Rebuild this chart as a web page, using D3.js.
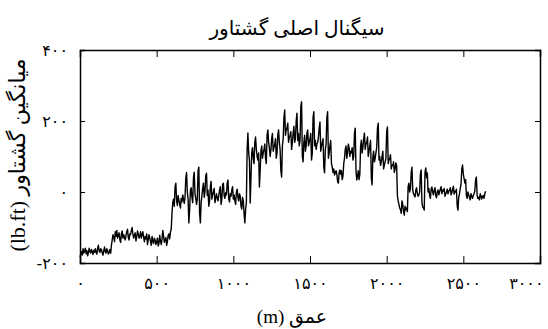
<!DOCTYPE html>
<html>
<head>
<meta charset="utf-8">
<script src="https://cdn.jsdelivr.net/npm/d3@7"></script>
<style>
  html, body { margin: 0; padding: 0; background: #fff; }
  svg { display: block; }
  text { font-family: "Liberation Serif", "DejaVu Sans", serif; fill: #000; }
</style>
</head>
<body>
<svg id="chart" width="548" height="329"></svg>
<script>
// Torque signal sampled every 5 m of depth (lb.ft), one row per 100 m
const depthStep = 5;
const torque = [
  -182,-175,-168,-178,-160,-172,-166,-158,-174,-165,-180,-170,-158,-168,-172,-162,-168,-176,-164,-170,
  -160,-170,-175,-158,-150,-166,-170,-160,-162,-172,-178,-165,-155,-168,-172,-160,-165,-175,-170,-162,
  -172,-150,-135,-120,-128,-140,-112,-125,-108,-130,-122,-115,-135,-142,-118,-110,-130,-120,-128,-135,
  -122,-112,-105,-128,-135,-118,-120,-108,-100,-118,-130,-122,-115,-138,-125,-110,-118,-130,-124,-112,
  -130,-120,-112,-128,-140,-125,-132,-118,-148,-135,-120,-130,-140,-150,-125,-138,-145,-130,-136,-148,
  -140,-130,-152,-145,-122,-138,-148,-132,-108,-125,-142,-135,-128,-150,-140,-122,-118,-132,-112,-105,
  -60,-30,-20,-40,15,25,-25,-38,-10,-22,-35,-45,-18,-28,-8,-20,-32,-15,40,55,
  0,-20,-87,-50,5,12,-15,-30,40,56,-5,-18,-35,-20,60,70,-60,-87,-30,-10,
  10,25,-15,0,45,53,-10,5,-40,-25,15,30,-20,-8,0,10,-30,-20,-5,-15,
  -25,-10,5,15,-35,-20,20,25,-10,-18,-2,-8,25,34,-20,-28,-5,-12,5,15,
  -20,-8,-25,-35,0,8,-15,-25,-5,-12,-40,-48,-15,-25,-60,-87,-50,-30,120,166,
  110,90,-31,40,110,125,95,80,140,155,120,100,90,110,14,60,115,130,95,110,
  120,135,95,80,160,175,140,125,100,118,150,165,115,125,135,150,95,110,160,175,
  140,120,60,42,130,150,210,231,160,175,180,194,140,155,160,170,120,140,165,185,
  140,150,200,222,145,165,130,145,240,254,100,85,140,160,115,130,165,175,130,140,
  150,165,90,110,210,226,130,145,120,135,140,155,180,197,115,130,140,150,70,54,
  120,135,210,226,95,110,130,145,80,70,55,65,48,55,60,50,30,25,55,62,
  50,60,35,45,80,95,120,130,95,110,135,125,100,115,110,125,90,100,165,180,
  60,34,45,60,35,50,130,146,110,125,150,166,120,135,140,155,100,115,130,145,
  40,20,100,115,85,95,110,125,180,194,90,100,75,85,100,115,65,75,85,95,
  170,183,80,90,95,105,65,75,75,85,55,65,82,75,-10,-25,-35,-45,-50,-60,
  -25,-35,-55,-65,-40,-50,-45,-55,15,25,0,10,55,70,5,-5,-10,-14,5,12,
  -5,-12,-8,0,50,62,-30,-42,-45,-51,55,68,40,54,0,10,-10,-18,8,14,
  0,-8,5,12,-10,-16,0,6,-8,0,8,15,-5,5,3,10,-12,-6,0,8,
  -5,3,5,12,-8,-2,8,16,-6,2,0,8,-40,-51,-15,-5,10,22,65,76,
  50,38,25,35,-10,-18,0,-8,-15,-22,-5,-12,-18,-10,-5,3,35,42,-10,-18,
  -15,-22,-5,-12,-20,-12,-10,-18,-5,2
];

const xTicks = [0, 500, 1000, 1500, 2000, 2500, 3000];
const yTicks = [-200, 0, 200, 400];
const titleText = "سیگنال اصلی گشتاور";
const xLabelText = "عمق (m)";
const yLabelText = "میانگین گشتاور (lb.ft)";

// Persian (Extended Arabic-Indic) digits for tick labels
const faDigits = "۰۱۲۳۴۵۶۷۸۹";
const toFa = v => String(v).replace(/[0-9]/g, d => faDigits[+d]);

const svg = d3.select("#chart");
const m = { left: 80, right: 540, top: 50, bottom: 263 };

const x = d3.scaleLinear().domain([0, 3000]).range([m.left, m.right]);
const y = d3.scaleLinear().domain([-200, 400]).range([m.bottom, m.top]);

const points = torque.map((v, i) => [i * depthStep, v]);

// Signal trace
svg.append("path")
  .datum(points)
  .attr("fill", "none")
  .attr("stroke", "#000")
  .attr("stroke-width", 1.4)
  .attr("stroke-linejoin", "round")
  .attr("d", d3.line().x(d => x(d[0])).y(d => y(d[1])));

// Axes with inward ticks on all four sides (boxed frame)
const fmt = d => toFa(d);
const bottomAxis = svg.append("g")
  .attr("transform", `translate(0,${m.bottom})`)
  .call(d3.axisBottom(x).tickValues(xTicks).tickSize(-7).tickPadding(15).tickFormat(fmt));
const topAxis = svg.append("g")
  .attr("transform", `translate(0,${m.top})`)
  .call(d3.axisTop(x).tickValues(xTicks).tickSize(-7).tickFormat(""));
const leftAxis = svg.append("g")
  .attr("transform", `translate(${m.left},0)`)
  .call(d3.axisLeft(y).tickValues(yTicks).tickSize(-5).tickPadding(12).tickFormat(fmt));
const rightAxis = svg.append("g")
  .attr("transform", `translate(${m.right},0)`)
  .call(d3.axisRight(y).tickValues(yTicks).tickSize(-5).tickFormat(""));

[bottomAxis, topAxis, leftAxis, rightAxis].forEach(g => {
  g.select(".domain").attr("stroke", "#000").attr("stroke-width", 1.5);
  g.selectAll(".tick line").attr("stroke", "#000").attr("stroke-width", 1);
  g.selectAll(".tick text")
    .style("font-family", "'DejaVu Sans', sans-serif")
    .style("font-size", "16px")
    .style("letter-spacing", "2.5px")
    .attr("fill", "#000");
});

// Keep the last x tick label inside the canvas
bottomAxis.selectAll(".tick text")
  .filter(d => d === xTicks[xTicks.length - 1])
  .attr("text-anchor", "end")
  .attr("x", 3);

// Title and axis titles
svg.append("text")
  .attr("x", 297).attr("y", 35)
  .attr("text-anchor", "middle")
  .style("font-size", "20px")
  .style("direction", "rtl")
  .text(titleText);

svg.append("text")
  .attr("x", 292).attr("y", 323)
  .attr("text-anchor", "middle")
  .style("font-size", "19px")
  .style("direction", "rtl")
  .text(xLabelText);

svg.append("text")
  .attr("transform", "translate(25,155) rotate(-90)")
  .attr("text-anchor", "middle")
  .style("font-size", "22px")
  .style("direction", "rtl")
  .text(yLabelText);
</script>
</body>
</html>
